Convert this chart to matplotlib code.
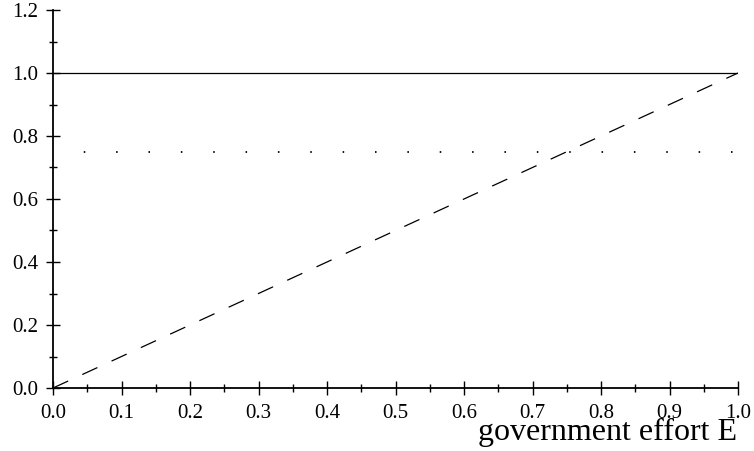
import matplotlib
matplotlib.use("Agg")
import matplotlib.pyplot as plt
import numpy as np
from matplotlib.ticker import MultipleLocator, FormatStrFormatter

plt.rcParams['font.family'] = ['Liberation Serif', 'DejaVu Serif']
plt.rcParams['lines.scale_dashes'] = False

# data
effort = [0.0, 1.0]
solid_y = [1.0, 1.0]
dotted_y = [0.75, 0.75]
dashed_y = [0.0, 1.0]
xlabel = "government effort E"

fig = plt.figure(figsize=(7.54, 4.51), dpi=100)
ax = fig.add_axes([53/754, 63/451, 685/754, 378/451])
ax.set_xlim(0, 1.0)
ax.set_ylim(0, 1.2)

ax.plot(effort, solid_y, color='black', lw=0.9, solid_capstyle='butt')
ax.plot(effort, dotted_y, color='black', lw=1.3,
        linestyle=(1.15, (1.1, 22.2)), dash_capstyle='butt')
ax.plot(effort, dashed_y, color='black', lw=0.9,
        linestyle=(0, (12, 11.2)), dash_capstyle='butt')

for s in ['top', 'right']:
    ax.spines[s].set_visible(False)
for s in ['left', 'bottom']:
    ax.spines[s].set_linewidth(1.3)

ax.xaxis.set_major_locator(MultipleLocator(0.1))
ax.xaxis.set_minor_locator(MultipleLocator(0.05))
ax.yaxis.set_major_locator(MultipleLocator(0.2))
ax.yaxis.set_minor_locator(MultipleLocator(0.1))
ax.xaxis.set_major_formatter(FormatStrFormatter('%.1f'))
ax.yaxis.set_major_formatter(FormatStrFormatter('%.1f'))

ax.tick_params(which='major', direction='inout', length=10.5, width=1.0,
               labelsize=15, color='black')
ax.tick_params(which='minor', direction='inout', length=6, width=1.0, color='black')
ax.tick_params(axis='x', which='major', pad=6)
ax.tick_params(axis='y', which='major', pad=5.5)

fig.text(737/754, 11/451, xlabel, ha='right', va='baseline', fontsize=23)

fig.savefig('out.png', dpi=100)
